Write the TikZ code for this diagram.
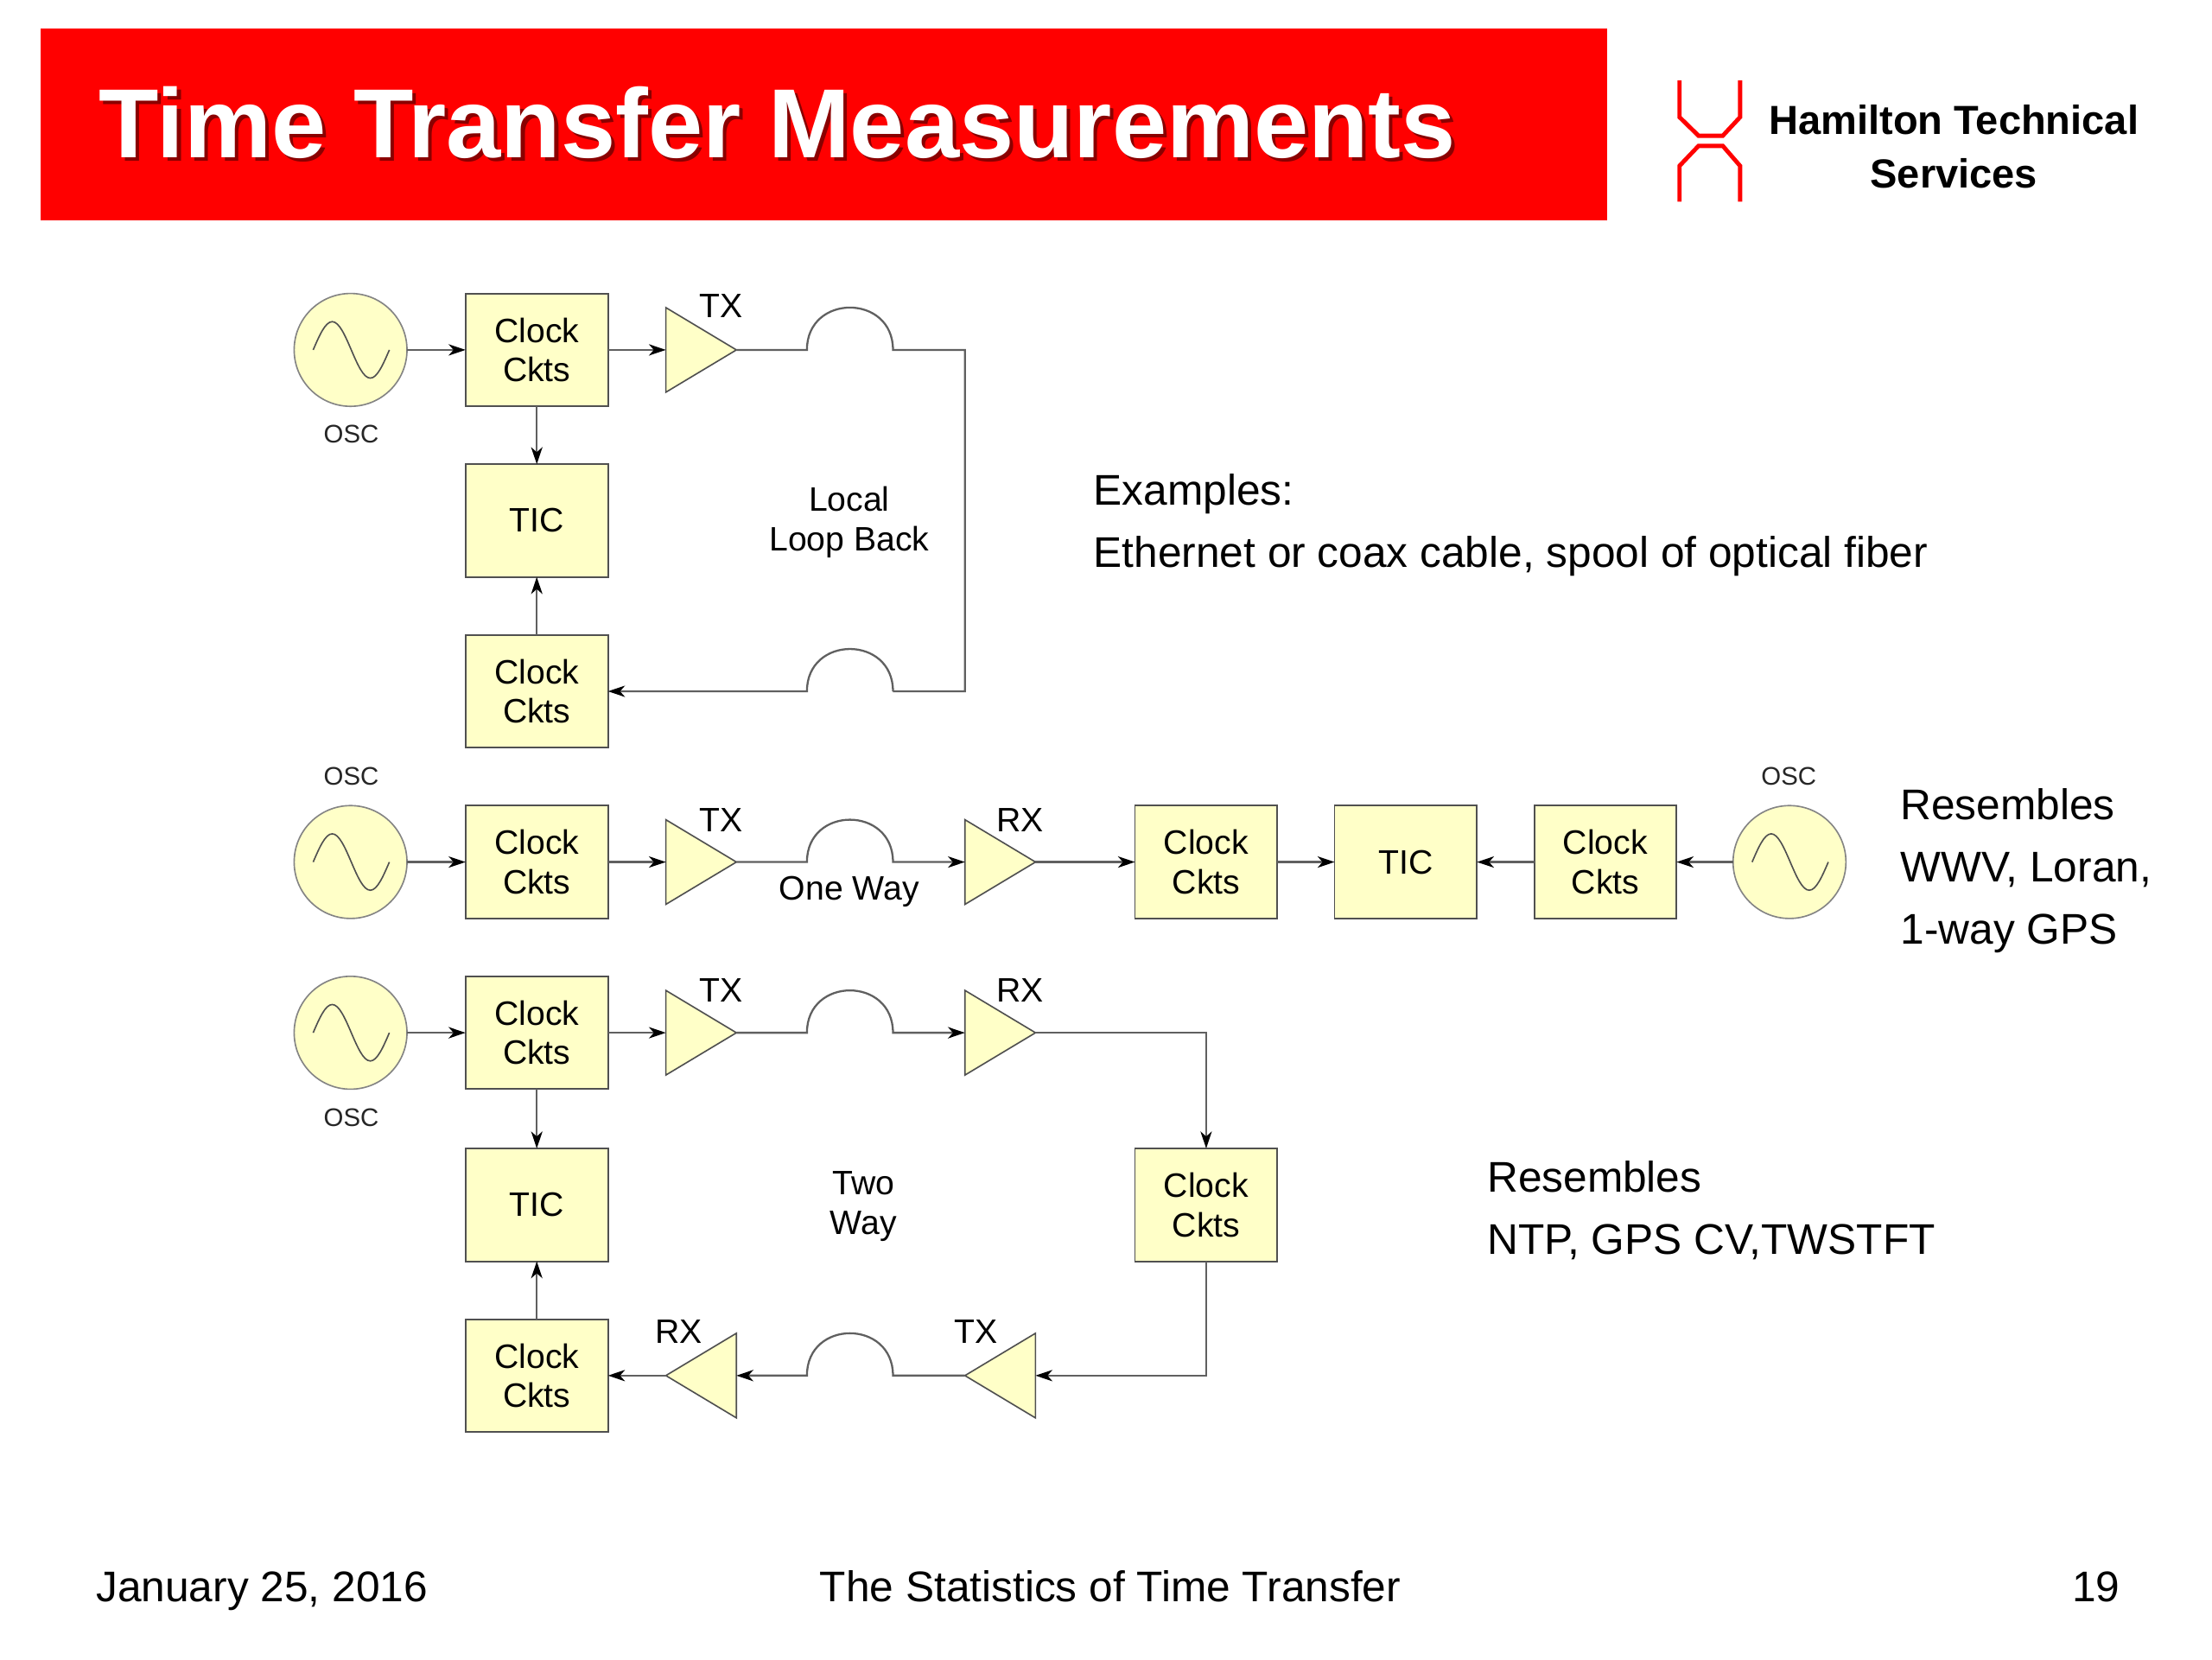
\documentclass[tikz,border=0pt]{standalone}
\usepackage{fontspec}
\setmainfont{Liberation Sans}
\usetikzlibrary{arrows.meta,shapes.geometric}
\definecolor{blockfill}{HTML}{FFFFC8}
\definecolor{edgegray}{HTML}{505050}
\definecolor{wiregray}{HTML}{606060}
\definecolor{titlered}{HTML}{FF0000}
\definecolor{shadowred}{HTML}{8A0000}
\tikzset{
  blockbox/.style={draw=edgegray,fill=blockfill,line width=1.2pt,minimum width=101pt,minimum height=80pt,inner sep=0pt,outer sep=0pt,align=center,font=\fontsize{24}{28}\selectfont},
  oscnode/.style={circle,draw=edgegray!70,fill=blockfill,line width=1pt,minimum size=80pt,inner sep=0pt,outer sep=0pt},
  ampright/.style={isosceles triangle,isosceles triangle stretches,shape border rotate=0,draw=edgegray,fill=blockfill,line width=1pt,minimum width=60pt,minimum height=50pt,inner sep=0pt,outer sep=0pt,anchor=west},
  ampleft/.style={isosceles triangle,isosceles triangle stretches,shape border rotate=180,draw=edgegray,fill=blockfill,line width=1pt,minimum width=60pt,minimum height=50pt,inner sep=0pt,outer sep=0pt,anchor=east},
  wire/.style={draw=wiregray,line width=1.4pt},
  arrowwire/.style={wire,-{Stealth[length=12pt,width=8pt,inset=3.5pt,black]}},
  sinewave/.style={draw=edgegray,line width=1pt},
  smalllabel/.style={font=\fontsize{24}{28}\selectfont,inner sep=0pt,align=center},
  osclabel/.style={font=\fontsize{18}{18}\selectfont,inner sep=0pt,text=black!85},
  bigtext/.style={font=\fontsize{30.4}{44}\selectfont,inner sep=0pt,align=left,anchor=north west},
  foottext/.style={font=\fontsize{30.4}{31}\selectfont,inner sep=0pt},
  logoline/.style={draw=titlered,line width=3pt},
}
\newcommand{\oscsine}[1]{\draw[sinewave] (#1.center) ++(-26.5,0) sin ++(13.5,-20) cos ++(13.5,20) sin ++(13.5,20) cos ++(13.5,-20);}
\newcommand{\archto}[2]{(#1) .. controls +(0,-40) and +(0,-40) .. (#2)}
\begin{document}
\begin{tikzpicture}[x=1pt,y=-1pt]
\useasboundingbox (0,0) rectangle (1568,1176);
\fill[white] (0,0) rectangle (1568,1176);
% banner
\fill[titlered] (29,20) rectangle (1139,156);
\node[anchor=base west,inner sep=0pt,text=shadowred,font=\bfseries\fontsize{69.6}{71}\selectfont] (titleshadow) at (72.5,114) {Time Transfer Measurements};
\node[anchor=base west,inner sep=0pt,text=white,font=\bfseries\fontsize{69.6}{71}\selectfont] (title) at (70,112) {Time Transfer Measurements};
% logo
\draw[logoline] (1190.5,57) -- (1190.5,83) -- (1204,96.2) -- (1221.2,96.2) -- (1233.5,83) -- (1233.5,57);
\draw[logoline] (1190.5,143) -- (1190.5,117.6) -- (1204,103.4) -- (1221.2,103.4) -- (1233.5,117.6) -- (1233.5,143);
\node[align=center,inner sep=0pt,font=\bfseries\fontsize{28.8}{38}\selectfont] (company) at (1385,104) {Hamilton Technical\\Services};

% --- Local loop back
\node[oscnode] (o1) at (248.5,248) {};
\oscsine{o1}
\node[osclabel] (o1l) at (249,308) {OSC};
\node[blockbox] (c1) at (380.5,248) {Clock\\Ckts};
\node[blockbox] (t1) at (380.5,369) {TIC};
\node[blockbox] (c2) at (380.5,490) {Clock\\Ckts};
\node[ampright] (a1) at (472,248) {};
\node[smalllabel] (a1l) at (511,217) {TX};
\coordinate (b1l) at (572,248);
\coordinate (b1r) at (633,248);
\coordinate (k1) at (684,248);
\coordinate (k2) at (684,490);
\coordinate (b2r) at (633,490);
\coordinate (b2l) at (572,490);
\draw[arrowwire] (o1.east) -- (c1.west);
\draw[arrowwire] (c1.east) -- (a1.west);
\draw[arrowwire] (c1.south) -- (t1.north);
\draw[arrowwire] (c2.north) -- (t1.south);
\draw[wire] (a1.east) -- \archto{b1l}{b1r} -- (k1) -- (k2) -- (b2r);
\draw[arrowwire] \archto{b2r}{b2l} -- (c2.east);
\node[smalllabel] (loop) at (602,370) {Local\\Loop Back};
\node[bigtext] (ex) at (775,336) {Examples:\\Ethernet or coax cable, spool of optical fiber};

% --- One way
\node[osclabel] (o2l) at (249,550) {OSC};
\node[oscnode] (o2) at (248.5,611) {};
\oscsine{o2}
\node[blockbox] (c3) at (380.5,611) {Clock\\Ckts};
\node[ampright] (a2) at (472,611) {};
\node[smalllabel] (a2l) at (511,581) {TX};
\coordinate (b3l) at (572,611);
\coordinate (b3r) at (633,611);
\node[ampright] (a3) at (684,611) {};
\node[smalllabel] (a3l) at (723,581) {RX};
\node[blockbox] (c4) at (855,611) {Clock\\Ckts};
\node[blockbox] (t2) at (996.5,611) {TIC};
\node[blockbox] (c5) at (1138,611) {Clock\\Ckts};
\node[oscnode] (o3) at (1268.5,611) {};
\oscsine{o3}
\node[osclabel] (o3l) at (1268,550) {OSC};
\draw[arrowwire] (o2.east) -- (c3.west);
\draw[arrowwire] (c3.east) -- (a2.west);
\draw[arrowwire] (a2.east) -- \archto{b3l}{b3r} -- (a3.west);
\draw[arrowwire] (a3.east) -- (c4.west);
\draw[arrowwire] (c4.east) -- (t2.west);
\draw[arrowwire] (c5.west) -- (t2.east);
\draw[arrowwire] (o3.west) -- (c5.east);
\node[smalllabel] (oneway) at (602,632) {One Way};
\node[bigtext] (res1) at (1347,559) {Resembles\\WWV, Loran,\\1-way GPS};

% --- Two way
\node[oscnode] (o4) at (248.5,732) {};
\oscsine{o4}
\node[osclabel] (o4l) at (249,792) {OSC};
\node[blockbox] (c6) at (380.5,732) {Clock\\Ckts};
\node[blockbox] (t3) at (380.5,854) {TIC};
\node[blockbox] (c7) at (380.5,975) {Clock\\Ckts};
\node[ampright] (a4) at (472,732) {};
\node[smalllabel] (a4l) at (511,702) {TX};
\coordinate (b4l) at (572,732);
\coordinate (b4r) at (633,732);
\node[ampright] (a5) at (684,732) {};
\node[smalllabel] (a5l) at (723,702) {RX};
\node[blockbox] (c8) at (855,854) {Clock\\Ckts};
\coordinate (k3) at (855,732);
\coordinate (k4) at (855,975);
\node[ampleft] (a6) at (734,975) {};
\node[smalllabel] (a6l) at (692,944) {TX};
\coordinate (b5r) at (633,975);
\coordinate (b5l) at (572,975);
\node[ampleft] (a7) at (522,975) {};
\node[smalllabel] (a7l) at (481,944) {RX};
\draw[arrowwire] (o4.east) -- (c6.west);
\draw[arrowwire] (c6.east) -- (a4.west);
\draw[arrowwire] (c6.south) -- (t3.north);
\draw[arrowwire] (c7.north) -- (t3.south);
\draw[arrowwire] (a4.east) -- \archto{b4l}{b4r} -- (a5.west);
\draw[arrowwire] (a5.east) -- (k3) -- (c8.north);
\draw[arrowwire] (c8.south) -- (k4) -- (a6.east);
\draw[arrowwire] (a6.west) -- \archto{b5r}{b5l} -- (a7.east);
\draw[arrowwire] (a7.west) -- (c7.east);
\node[smalllabel] (twoway) at (612,855) {Two\\Way};
\node[bigtext] (res2) at (1054,823) {Resembles\\NTP, GPS CV,TWSTFT};

% footer
\node[foottext,anchor=base west] (fdate) at (68,1135) {January 25, 2016};
\node[foottext,anchor=base] (ftitle) at (787,1135) {The Statistics of Time Transfer};
\node[foottext,anchor=base east] (fpage) at (1503,1135) {19};
\end{tikzpicture}
\end{document}
